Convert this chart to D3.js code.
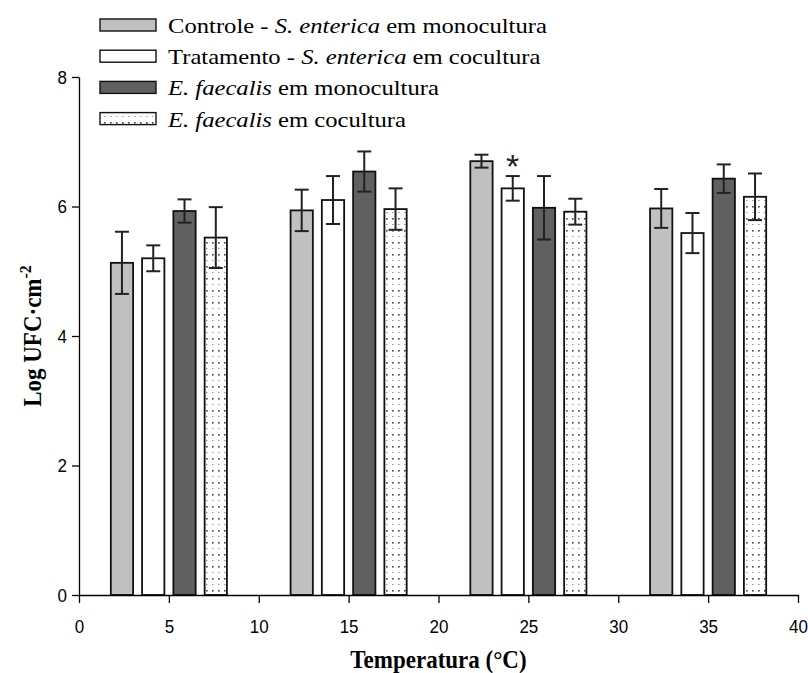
<!DOCTYPE html>
<html>
<head>
<meta charset="utf-8">
<script src="https://cdn.jsdelivr.net/npm/d3@7"></script>
<style>
  html, body { margin: 0; padding: 0; background: #fff; }
  svg { display: block; }
</style>
</head>
<body>
<svg id="chart" width="808" height="673"></svg>
<script>
// Temperature groups (°C)
const temperatures = [5, 15, 25, 35];

// Series names (legend order)
const seriesKeys = ["controle", "tratamento", "efMono", "efCo"];

// Mean Log UFC·cm⁻² per temperature
const controleMeans   = [5.13, 5.94, 6.70, 5.97];
const tratamentoMeans = [5.20, 6.10, 6.28, 5.59];
const efMonoMeans     = [5.93, 6.54, 5.98, 6.43];
const efCoMeans       = [5.52, 5.96, 5.92, 6.15];

// Standard deviations
const controleErr   = [0.48, 0.32, 0.10, 0.30];
const tratamentoErr = [0.20, 0.37, 0.19, 0.31];
const efMonoErr     = [0.18, 0.31, 0.49, 0.22];
const efCoErr       = [0.47, 0.32, 0.20, 0.36];

// Significance marks: [temperature, series]
const significance = [[25, "tratamento"]];

const xTicks = [0, 5, 10, 15, 20, 25, 30, 35, 40];
const yTicks = [0, 2, 4, 6, 8];

const meansBy = { controle: controleMeans, tratamento: tratamentoMeans, efMono: efMonoMeans, efCo: efCoMeans };
const errBy   = { controle: controleErr, tratamento: tratamentoErr, efMono: efMonoErr, efCo: efCoErr };

const SERIF = "Liberation Serif, Times New Roman, serif";
const SANS = "Liberation Sans, Arial, sans-serif";

const svg = d3.select("#chart");

// Dotted fill pattern
const defs = svg.append("defs");
const pat = defs.append("pattern")
  .attr("id", "dots").attr("patternUnits", "userSpaceOnUse")
  .attr("width", 6).attr("height", 12);
pat.append("rect").attr("width", 6).attr("height", 12).attr("fill", "#fff");
pat.append("rect").attr("x", 2).attr("y", 2).attr("width", 1.6).attr("height", 1.6).attr("fill", "#444");
pat.append("rect").attr("x", 2).attr("y", 8).attr("width", 1.6).attr("height", 1).attr("fill", "#9a9a9a");

const fills = { controle: "#c0c0c0", tratamento: "#ffffff", efMono: "#606060", efCo: "url(#dots)" };

const x = d3.scaleLinear().domain([0, 40]).range([79, 798]);
const y = d3.scaleLinear().domain([0, 8]).range([595, 77]);

// Bar offsets within a group (in °C units) and bar width
const offset = d3.scalePoint().domain(seriesKeys).range([-2.61, 2.61]);
const barW = 1.24;

const rows = [];
temperatures.forEach((t, i) => {
  seriesKeys.forEach(k => {
    rows.push({ t, key: k, v: meansBy[k][i], e: errBy[k][i] });
  });
});

const cx = d => x(d.t + offset(d.key));
const bw = x(barW) - x(0);

// Bars
svg.append("g").selectAll("rect").data(rows).join("rect")
  .attr("x", d => cx(d) - bw / 2)
  .attr("y", d => y(d.v))
  .attr("width", bw)
  .attr("height", d => y(0) - y(d.v))
  .attr("fill", d => fills[d.key])
  .attr("stroke", "#111")
  .attr("stroke-width", 1.8);

// Error bars
const eb = svg.append("g").attr("stroke", "#222").attr("stroke-width", 2);
const cap = 7;
rows.forEach(d => {
  const c = cx(d);
  eb.append("line").attr("x1", c).attr("x2", c).attr("y1", y(d.v + d.e)).attr("y2", y(d.v - d.e));
  eb.append("line").attr("x1", c - cap).attr("x2", c + cap).attr("y1", y(d.v + d.e)).attr("y2", y(d.v + d.e));
  eb.append("line").attr("x1", c - cap).attr("x2", c + cap).attr("y1", y(d.v - d.e)).attr("y2", y(d.v - d.e));
});

// Significance asterisk
significance.forEach(([t, k]) => {
  const d = rows.find(r => r.t === t && r.key === k);
  svg.append("text")
    .attr("x", cx(d)).attr("y", y(d.v + d.e) + 2)
    .attr("text-anchor", "middle")
    .attr("font-family", SANS)
    .attr("font-size", 34)
    .attr("fill", "#222")
    .text("*");
});

// Axes
const xAxis = svg.append("g").attr("transform", `translate(0,${y(0)})`)
  .call(d3.axisBottom(x).tickValues(xTicks).tickSize(8).tickSizeOuter(0).tickPadding(6));
const yAxis = svg.append("g").attr("transform", `translate(${x(0)},0)`)
  .call(d3.axisLeft(y).tickValues(yTicks).tickSize(7).tickSizeOuter(0).tickPadding(6));
[xAxis, yAxis].forEach(a => {
  a.selectAll("path, line").attr("stroke", "#000").attr("stroke-width", 1.3);
  a.selectAll("text").attr("font-family", SANS).attr("font-size", 17).attr("fill", "#000");
});
// Slightly tall digits, positioned by baseline
xAxis.selectAll(".tick text")
  .attr("y", null).attr("dy", null)
  .attr("transform", "translate(0,38) scale(1,1.12)");
yAxis.selectAll(".tick text")
  .attr("x", null).attr("dy", null)
  .attr("transform", "translate(-12,6) scale(1,1.12)");

// Axis titles
svg.append("text")
  .attr("transform", `translate(${x(20)},668) scale(1,1.12)`)
  .attr("text-anchor", "middle")
  .attr("font-family", SERIF)
  .attr("font-weight", "bold").attr("font-size", 23)
  .text("Temperatura (°C)");

const yt = svg.append("text")
  .attr("transform", `translate(41,${y(4)}) rotate(-90) scale(1,1.08)`)
  .attr("text-anchor", "middle")
  .attr("font-family", SERIF)
  .attr("font-weight", "bold").attr("font-size", 23);
yt.append("tspan").text("Log UFC·cm");
yt.append("tspan").attr("dy", -9).attr("font-size", 16).text("-2");

// Legend
const legendItems = [
  { key: "controle",   parts: [["Controle - ", false], ["S. enterica", true], [" em monocultura", false]] },
  { key: "tratamento", parts: [["Tratamento - ", false], ["S. enterica", true], [" em cocultura", false]] },
  { key: "efMono",     parts: [["E. faecalis", true], [" em monocultura", false]] },
  { key: "efCo",       parts: [["E. faecalis", true], [" em cocultura", false]] }
];
const lg = svg.append("g");
legendItems.forEach((it, i) => {
  const cy = 25 + i * 31.2;
  lg.append("rect")
    .attr("x", 100).attr("y", cy - 6).attr("width", 56).attr("height", 12)
    .attr("fill", fills[it.key]).attr("stroke", "#111").attr("stroke-width", 1.4);
  const t = lg.append("text")
    .attr("transform", `translate(168,${cy + 8}) scale(1.12,1)`)
    .attr("font-family", SERIF)
    .attr("font-size", 22).attr("fill", "#000");
  it.parts.forEach(([s, ital]) => t.append("tspan").attr("font-style", ital ? "italic" : "normal").text(s));
});
</script>
</body>
</html>
